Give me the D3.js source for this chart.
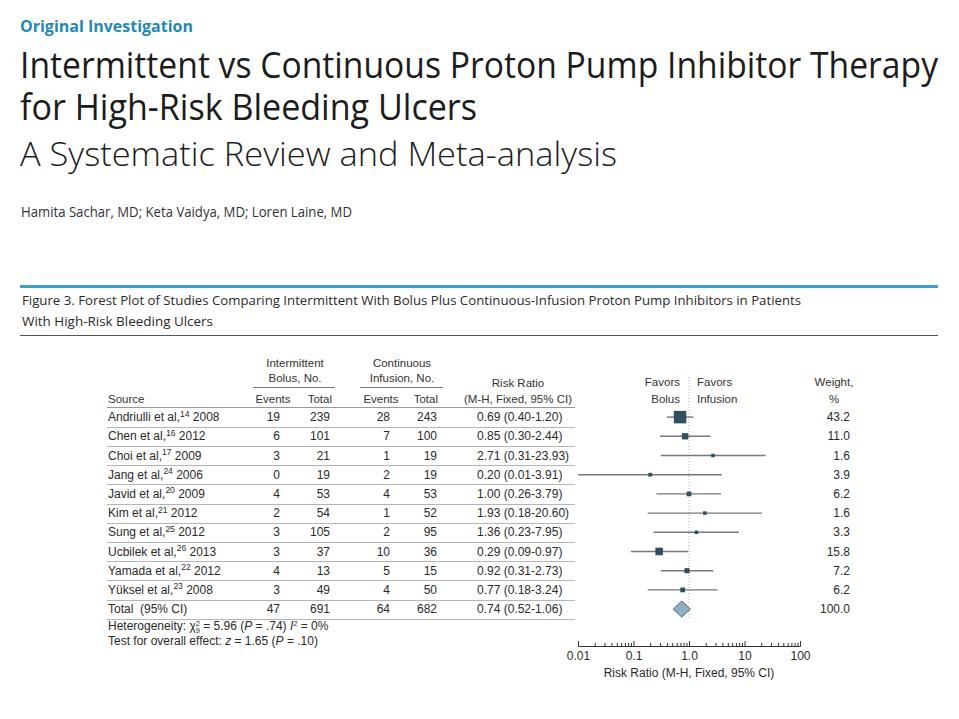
<!DOCTYPE html>
<html>
<head>
<meta charset="utf-8">
<script src="https://cdn.jsdelivr.net/npm/d3@7"></script>
<style>
  body { margin: 0; background: #fff; }
  svg { display: block; }
</style>
</head>
<body>
<svg id="chart"></svg>
<script>
// ---- data ----
const studies = ["Andriulli et al,", "Chen et al,", "Choi et al,", "Jang et al,", "Javid et al,",
                 "Kim et al,", "Sung et al,", "Ucbilek et al,", "Yamada et al,", "Yüksel et al,"];
const refs = ["14", "16", "17", "24", "20", "21", "25", "26", "22", "23"];
const years = ["2008", "2012", "2009", "2006", "2009", "2012", "2012", "2013", "2012", "2008"];
const bolusEvents = [19, 6, 3, 0, 4, 2, 3, 3, 4, 3];
const bolusTotal = [239, 101, 21, 19, 53, 54, 105, 37, 13, 49];
const infusionEvents = [28, 7, 1, 2, 4, 1, 2, 10, 5, 4];
const infusionTotal = [243, 100, 19, 19, 53, 52, 95, 36, 15, 50];
const riskRatio = [0.69, 0.85, 2.71, 0.20, 1.00, 1.93, 1.36, 0.29, 0.92, 0.77];
const ciLow = [0.40, 0.30, 0.31, 0.01, 0.26, 0.18, 0.23, 0.09, 0.31, 0.18];
const ciHigh = [1.20, 2.44, 23.93, 3.91, 3.79, 20.60, 7.95, 0.97, 2.73, 3.24];
const weights = [43.2, 11.0, 1.6, 3.9, 6.2, 1.6, 3.3, 15.8, 7.2, 6.2];
const totalCounts = [47, 691, 64, 682];
const totalRR = [0.74, 0.52, 1.06];
const totalWeight = 100.0;
const axisTicks = [0.01, 0.1, 1, 10, 100];
const axisTickLabels = ["0.01", "0.1", "1.0", "10", "100"];

const width = 959, height = 719;
const tableFont = "'Liberation Sans', Arial, sans-serif";
const headFont = "'Open Sans', 'Noto Sans', sans-serif";
const textCol = "#2a2a2a";

const svg = d3.select('#chart')
    .attr("width", width)
    .attr("height", height)
    .style("background", "#fff");

// ---- page heading ----
svg.append("text")
  .attr("x", 20).attr("y", 31.5)
  .attr("font-family", headFont).attr("font-weight", 700).attr("font-size", 16.5)
  .attr("fill", "#2388b2")
  .attr("textLength", 173).attr("lengthAdjust", "spacingAndGlyphs")
  .text("Original Investigation");

const titleLines = [
  { t: "Intermittent vs Continuous Proton Pump Inhibitor Therapy", y: 77.5, w: 918, fs: 36, fw: 500 },
  { t: "for High-Risk Bleeding Ulcers", y: 119.5, w: 457, fs: 36, fw: 500 },
  { t: "A Systematic Review and Meta-analysis", y: 166, w: 597, fs: 33, fw: 300 }
];
svg.selectAll(".title")
  .data(titleLines)
  .enter().append("text")
  .attr("class", "title")
  .attr("x", 20).attr("y", d => d.y)
  .attr("font-family", headFont)
  .attr("font-size", d => d.fs)
  .attr("font-weight", d => d.fw)
  .attr("fill", "#1c1c1c")
  .attr("textLength", d => d.w).attr("lengthAdjust", "spacingAndGlyphs")
  .text(d => d.t);

svg.append("text")
  .attr("x", 21).attr("y", 216.5)
  .attr("font-family", headFont).attr("font-size", 14.5)
  .attr("fill", "#333")
  .attr("textLength", 331).attr("lengthAdjust", "spacingAndGlyphs")
  .text("Hamita Sachar, MD; Keta Vaidya, MD; Loren Laine, MD");

// ---- figure caption ----
const capLeft = 20, capRight = 938;
const left = 107;
svg.append("line")
  .attr("x1", capLeft).attr("x2", capRight).attr("y1", 286.5).attr("y2", 286.5)
  .attr("stroke", "#3a9fcc").attr("stroke-width", 3);

svg.append("text")
  .attr("x", 22).attr("y", 305)
  .attr("font-family", headFont).attr("font-size", 13.5).attr("font-weight", 500)
  .attr("fill", textCol)
  .attr("textLength", 779).attr("lengthAdjust", "spacingAndGlyphs")
  .text("Figure 3. Forest Plot of Studies Comparing Intermittent With Bolus Plus Continuous-Infusion Proton Pump Inhibitors in Patients");
svg.append("text")
  .attr("x", 22).attr("y", 326)
  .attr("font-family", headFont).attr("font-size", 13.5).attr("font-weight", 500)
  .attr("fill", textCol)
  .attr("textLength", 191).attr("lengthAdjust", "spacingAndGlyphs")
  .text("With High-Risk Bleeding Ulcers");

svg.append("line")
  .attr("x1", capLeft).attr("x2", capRight).attr("y1", 335.5).attr("y2", 335.5)
  .attr("stroke", "#555").attr("stroke-width", 1);

// ---- scales ----
const nRows = studies.length + 1;
const yScale = d3.scaleBand()
  .domain(d3.range(nRows))
  .range([407.5, 618.7]);
const rowMid = i => yScale(i) + yScale.bandwidth() / 2;

const xScale = d3.scaleLog()
  .domain([0.01, 100])
  .range([578, 800]);

const boxSize = d3.scaleSqrt()
  .domain([0, d3.max(weights)])
  .range([0, 12.5]);

const fmt = d3.format(".2f");

// ---- column header ----
const head = svg.append("g")
  .attr("font-family", tableFont)
  .attr("font-size", 11.5)
  .attr("fill", "#333");

const headText = (x, y, t, anchor) => head.append("text")
  .attr("x", x).attr("y", y).attr("text-anchor", anchor || "middle").text(t);

headText(295, 367, "Intermittent");
headText(295, 382, "Bolus, No.");
headText(402, 367, "Continuous");
headText(402, 382, "Infusion, No.");
headText(108, 403, "Source", "start");
headText(273, 403, "Events");
headText(332, 403, "Total", "end");
headText(381, 403, "Events");
headText(438, 403, "Total", "end");
headText(518, 387, "Risk Ratio");
headText(518, 403, "(M-H, Fixed, 95% CI)");
headText(680, 386, "Favors", "end");
headText(680, 403, "Bolus", "end");
headText(697, 386, "Favors", "start");
headText(697, 403, "Infusion", "start");
headText(834, 386, "Weight,");
headText(834, 403, "%");

[[253, 335], [360, 443]].forEach(r => {
  svg.append("line")
    .attr("x1", r[0]).attr("x2", r[1]).attr("y1", 387.5).attr("y2", 387.5)
    .attr("stroke", "#777").attr("stroke-width", 1);
});

// header rule and row separators
svg.append("line")
  .attr("x1", left).attr("x2", 575).attr("y1", 407.5).attr("y2", 407.5)
  .attr("stroke", "#999");
svg.selectAll(".sep")
  .data(d3.range(nRows))
  .enter().append("line")
  .attr("class", "sep")
  .attr("x1", left).attr("x2", 575)
  .attr("y1", i => Math.round(yScale(i) + yScale.bandwidth()) + 0.5)
  .attr("y2", i => Math.round(yScale(i) + yScale.bandwidth()) + 0.5)
  .attr("stroke", "#b5b5b5");

// ---- table rows ----
const rows = svg.append("g")
  .attr("font-family", tableFont)
  .attr("font-size", 12)
  .attr("fill", textCol);

studies.forEach((s, i) => {
  const y = rowMid(i) + 4;
  const src = rows.append("text").attr("x", 108).attr("y", y);
  src.append("tspan").text(s);
  src.append("tspan").attr("font-size", 8.5).attr("dy", -4.5).text(refs[i]);
  src.append("tspan").attr("dy", 4.5).text(" " + years[i]);

  rows.append("text").attr("x", 280).attr("y", y).attr("text-anchor", "end").text(bolusEvents[i]);
  rows.append("text").attr("x", 330).attr("y", y).attr("text-anchor", "end").text(bolusTotal[i]);
  rows.append("text").attr("x", 390).attr("y", y).attr("text-anchor", "end").text(infusionEvents[i]);
  rows.append("text").attr("x", 437).attr("y", y).attr("text-anchor", "end").text(infusionTotal[i]);
  rows.append("text").attr("x", 477).attr("y", y)
    .text(`${fmt(riskRatio[i])} (${fmt(ciLow[i])}-${fmt(ciHigh[i])})`);
  rows.append("text").attr("x", 850).attr("y", y).attr("text-anchor", "end")
    .text(d3.format(".1f")(weights[i]));
});

// total row
const ty = rowMid(nRows - 1) + 4;
rows.append("text").attr("x", 108).attr("y", ty).attr("xml:space", "preserve").text("Total  (95% CI)");
[280, 330, 390, 437].forEach((x, k) => {
  rows.append("text").attr("x", x).attr("y", ty).attr("text-anchor", "end").text(totalCounts[k]);
});
rows.append("text").attr("x", 477).attr("y", ty)
  .text(`${fmt(totalRR[0])} (${fmt(totalRR[1])}-${fmt(totalRR[2])})`);
rows.append("text").attr("x", 850).attr("y", ty).attr("text-anchor", "end")
  .text(d3.format(".1f")(totalWeight));

// heterogeneity footnote
const het = rows.append("text").attr("x", 108).attr("y", 630);
het.append("tspan").text("Heterogeneity: χ");
het.append("tspan").attr("font-size", 7.5).attr("dy", -4).text("2");
het.append("tspan").attr("font-size", 7.5).attr("dx", -4.2).attr("dy", 6.5).text("9");
het.append("tspan").attr("dy", -2.5).text(" = 5.96  (");
het.append("tspan").attr("font-style", "italic").text("P");
het.append("tspan").text(" = .74) ");
het.append("tspan").attr("font-style", "italic").text("I");
het.append("tspan").attr("font-size", 7.5).attr("dy", -4).text("2");
het.append("tspan").attr("dy", 4).text(" = 0%");

const eff = rows.append("text").attr("x", 108).attr("y", 645);
eff.append("tspan").text("Test for overall effect: ");
eff.append("tspan").attr("font-style", "italic").text("z");
eff.append("tspan").text(" = 1.65 (");
eff.append("tspan").attr("font-style", "italic").text("P");
eff.append("tspan").text(" = .10)");

// ---- forest plot ----
const plot = svg.append("g");

// line of no effect
plot.append("line")
  .attr("x1", xScale(1)).attr("x2", xScale(1))
  .attr("y1", 377).attr("y2", 619)
  .attr("stroke", "#aaa").attr("stroke-dasharray", "1,2");

// confidence intervals
plot.selectAll(".ci")
  .data(d3.range(studies.length))
  .enter().append("line")
  .attr("class", "ci")
  .attr("x1", i => xScale(ciLow[i]))
  .attr("x2", i => xScale(ciHigh[i]))
  .attr("y1", i => rowMid(i))
  .attr("y2", i => rowMid(i))
  .attr("stroke", "#777")
  .attr("stroke-width", 1.4);

// weighted boxes
plot.selectAll(".box")
  .data(d3.range(studies.length))
  .enter().append("rect")
  .attr("class", "box")
  .attr("x", i => xScale(riskRatio[i]) - Math.max(boxSize(weights[i]), 3.5) / 2)
  .attr("y", i => rowMid(i) - Math.max(boxSize(weights[i]), 3.5) / 2)
  .attr("width", i => Math.max(boxSize(weights[i]), 3.5))
  .attr("height", i => Math.max(boxSize(weights[i]), 3.5))
  .attr("fill", "#2f4e5f");

// pooled diamond
const dy = rowMid(nRows - 1);
const dx = [xScale(totalRR[1]), xScale(totalRR[0]), xScale(totalRR[2])];
plot.append("path")
  .attr("d", `M${dx[0]},${dy} L${dx[1]},${dy - 8} L${dx[2]},${dy} L${dx[1]},${dy + 8} Z`)
  .attr("fill", "#8db0c2")
  .attr("stroke", "#4b6878")
  .attr("stroke-width", 1);

// ---- axis ----
const axisY = 646;
const minorTicks = [];
axisTicks.slice(0, -1).forEach(t => {
  for (let m = 2; m <= 9; m++) minorTicks.push(t * m);
});

const xAxisMinor = d3.axisBottom(xScale)
  .tickValues(minorTicks)
  .tickSizeInner(-3)
  .tickSizeOuter(0)
  .tickFormat("");

const xAxis = d3.axisBottom(xScale)
  .tickValues(axisTicks)
  .tickSizeInner(-5)
  .tickSizeOuter(0)
  .tickPadding(5)
  .tickFormat((d, i) => axisTickLabels[i]);

const xAxisG2 = svg.append("g")
  .attr("transform", `translate(0, ${axisY})`)
  .call(xAxisMinor);
const xAxisG = svg.append("g")
  .attr("transform", `translate(0, ${axisY})`)
  .call(xAxis);

[xAxisG, xAxisG2].forEach(g => {
  g.selectAll("path, line").attr("stroke", "#333");
  g.selectAll("text")
    .attr("font-family", tableFont)
    .attr("font-size", 12)
    .attr("fill", textCol);
});

xAxisG.append("text")
  .attr("x", xScale(1))
  .attr("y", 31)
  .attr("text-anchor", "middle")
  .attr("fill", textCol)
  .attr("font-family", tableFont)
  .attr("font-size", 12)
  .text("Risk Ratio (M-H, Fixed, 95% CI)");
</script>
</body>
</html>
